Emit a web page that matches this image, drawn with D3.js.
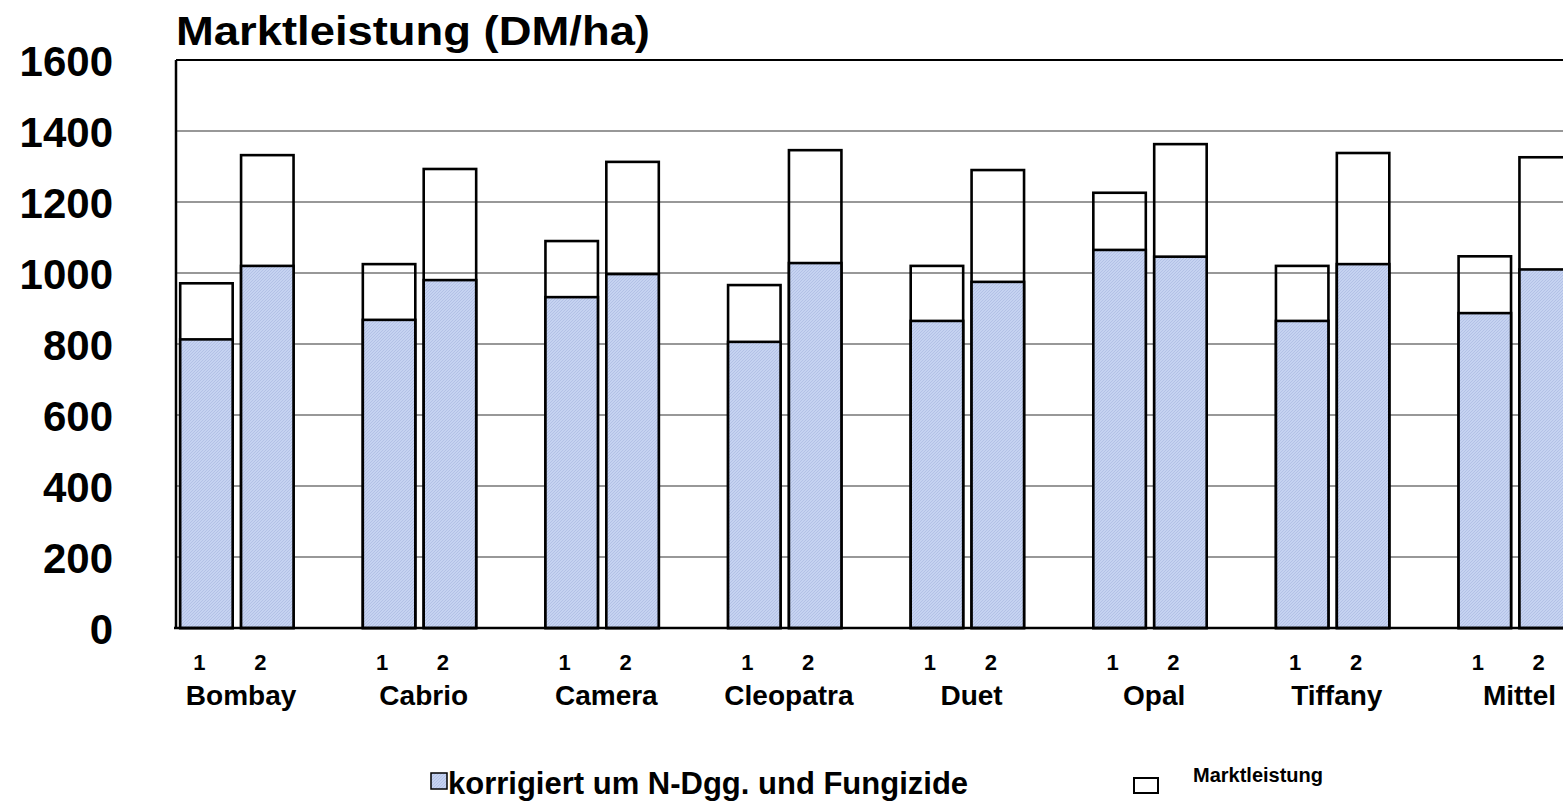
<!DOCTYPE html>
<html>
<head>
<meta charset="utf-8">
<script src="https://cdn.jsdelivr.net/npm/d3@7"></script>
<style>
  body { margin: 0; background: #fff; }
  svg text { font-family: "Liberation Sans", Arial, sans-serif; font-weight: bold; fill: #000; }
</style>
</head>
<body>
<div id="chart"></div>
<script>
// data
var categories = ["Bombay", "Cabrio", "Camera", "Cleopatra", "Duet", "Opal", "Tiffany", "Mittel"];
var subgroups = ["1", "2"];
var marktleistung1 = [971, 1025, 1090, 966, 1020, 1226, 1020, 1047];
var marktleistung2 = [1332, 1293, 1313, 1346, 1290, 1363, 1338, 1326];
var korrigiert1 = [813, 868, 932, 806, 865, 1065, 865, 887];
var korrigiert2 = [1020, 980, 997, 1028, 975, 1046, 1025, 1010];
var yTicks = [0, 200, 400, 600, 800, 1000, 1200, 1400, 1600];

var W = 1563, H = 804;
var margin = {top: 60, left: 176},
    width = 1461,   // plot runs past the right edge of the picture
    height = 568;

var svg = d3.select("#chart")
  .append("svg")
    .attr("width", W)
    .attr("height", H);

var defs = svg.append("defs");
var pat = defs.append("pattern")
    .attr("id", "hatch")
    .attr("patternUnits", "userSpaceOnUse")
    .attr("width", 3)
    .attr("height", 3);
pat.append("rect").attr("width", 3).attr("height", 3).attr("fill", "#c6d3f1");
pat.append("path")
    .attr("d", "M-1,1 l2,-2 M0,3 l3,-3 M2,4 l2,-2")
    .attr("stroke", "#aebde3")
    .attr("stroke-width", 0.8);

var g = svg.append("g")
    .attr("transform", "translate(" + margin.left + "," + margin.top + ")");

// build rows: each category has cells "1", "2" and an empty spacer
var rows = [];
var cells = [];
categories.forEach(function(c, i) {
  cells.push(c + "|1", c + "|2", c + "|");
  rows.push({cat: c, sub: subgroups[0], markt: marktleistung1[i], korr: korrigiert1[i]});
  rows.push({cat: c, sub: subgroups[1], markt: marktleistung2[i], korr: korrigiert2[i]});
});

var x = d3.scaleBand()
    .domain(cells)
    .range([0, width])
    .paddingInner(0.138)
    .paddingOuter(0.069);

var y = d3.scaleLinear()
    .domain([0, 1600])
    .range([height, 0]);

// gridlines
g.append("g")
  .selectAll("line")
  .data(yTicks.filter(function(d) { return d > 0 && d < 1600; }))
  .enter().append("line")
    .attr("x1", 0).attr("x2", width)
    .attr("y1", function(d) { return y(d); })
    .attr("y2", function(d) { return y(d); })
    .attr("stroke", "#333")
    .attr("stroke-width", 1.1);

// Marktleistung (outline only)
g.append("g")
  .selectAll("rect")
  .data(rows)
  .enter().append("rect")
    .attr("x", function(d) { return x(d.cat + "|" + d.sub); })
    .attr("y", function(d) { return y(d.markt); })
    .attr("width", x.bandwidth())
    .attr("height", function(d) { return height - y(d.markt); })
    .attr("fill", "none")
    .attr("stroke", "#000")
    .attr("stroke-width", 2.6);

// korrigiert (hatched blue)
g.append("g")
  .selectAll("rect")
  .data(rows)
  .enter().append("rect")
    .attr("x", function(d) { return x(d.cat + "|" + d.sub); })
    .attr("y", function(d) { return y(d.korr); })
    .attr("width", x.bandwidth())
    .attr("height", function(d) { return height - y(d.korr); })
    .attr("fill", "url(#hatch)")
    .attr("stroke", "#000")
    .attr("stroke-width", 2.6);

// frame: top, left, bottom
g.append("line").attr("x1", 0).attr("x2", width).attr("y1", 0).attr("y2", 0)
  .attr("stroke", "#000").attr("stroke-width", 2);
g.append("line").attr("x1", 0).attr("x2", 0).attr("y1", 0).attr("y2", height)
  .attr("stroke", "#000").attr("stroke-width", 2.5);
g.append("line").attr("x1", -2).attr("x2", width).attr("y1", height).attr("y2", height)
  .attr("stroke", "#000").attr("stroke-width", 2.5);

// y axis labels
var yAxis = d3.axisLeft(y).tickValues(yTicks).tickFormat(d3.format("d")).tickSize(0).tickPadding(63);
var ya = g.append("g").call(yAxis);
ya.select(".domain").remove();
ya.selectAll("text")
    .style("font-size", "42px")
    .style("font-family", "'Liberation Sans', Arial, sans-serif")
    .style("font-weight", "bold")
    .attr("dy", "0.36em");

// x labels: subgroup numbers and category names
g.append("g")
  .selectAll("text")
  .data(rows)
  .enter().append("text")
    .attr("x", function(d) { return x(d.cat + "|" + d.sub) + x.bandwidth() / 2 - 7; })
    .attr("y", height + 42)
    .attr("text-anchor", "middle")
    .style("font-size", "22px")
    .text(function(d) { return d.sub; });

g.append("g")
  .selectAll("text")
  .data(categories)
  .enter().append("text")
    .attr("x", function(d) { return x(d + "|1") + x.step(); })
    .attr("y", height + 77)
    .attr("text-anchor", "middle")
    .style("font-size", "28px")
    .text(function(d) { return d; });

// title
svg.append("text")
    .attr("x", 176)
    .attr("y", 45)
    .attr("textLength", 474)
    .attr("lengthAdjust", "spacingAndGlyphs")
    .style("font-size", "41px")
    .text("Marktleistung (DM/ha)");

// legend
svg.append("rect")
    .attr("x", 431).attr("y", 773).attr("width", 16).attr("height", 16)
    .attr("fill", "url(#hatch)").attr("stroke", "#000").attr("stroke-width", 1.5);
svg.append("text")
    .attr("x", 448).attr("y", 794)
    .style("font-size", "31px")
    .text("korrigiert um N-Dgg. und Fungizide");

svg.append("rect")
    .attr("x", 1134).attr("y", 778).attr("width", 24).attr("height", 15)
    .attr("fill", "#fff").attr("stroke", "#000").attr("stroke-width", 2);
svg.append("text")
    .attr("x", 1193).attr("y", 782)
    .style("font-size", "20px")
    .text("Marktleistung");
</script>
</body>
</html>
